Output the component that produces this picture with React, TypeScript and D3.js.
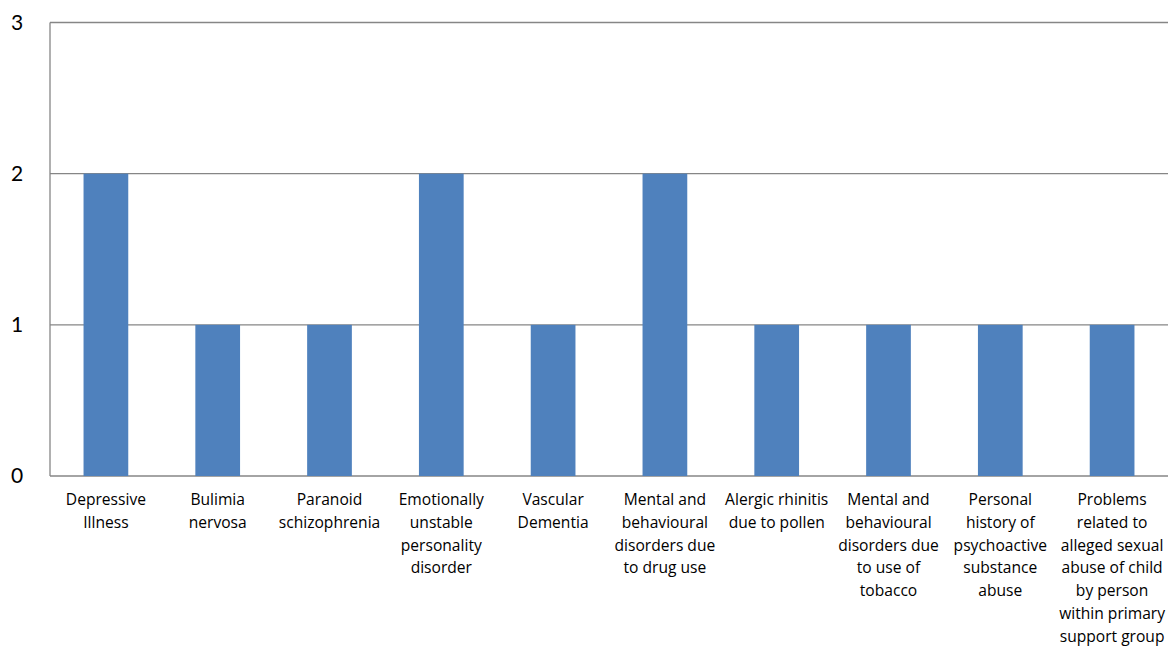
import React from "react";
import * as d3 from "d3";

const categories: string[][] = [
  ["Depressive", "Illness"],
  ["Bulimia", "nervosa"],
  ["Paranoid", "schizophrenia"],
  ["Emotionally", "unstable", "personality", "disorder"],
  ["Vascular", "Dementia"],
  ["Mental and", "behavioural", "disorders due", "to drug use"],
  ["Alergic rhinitis", "due to pollen"],
  ["Mental and", "behavioural", "disorders due", "to use of", "tobacco"],
  ["Personal", "history of", "psychoactive", "substance", "abuse"],
  ["Problems", "related to", "alleged sexual", "abuse of child", "by person", "within primary", "support group"],
];

const values: number[] = [2, 1, 1, 2, 1, 2, 1, 1, 1, 1];

const yTicks: number[] = [0, 1, 2, 3];

const W = 1173;
const H = 648;
const margin = { left: 50, right: 5, top: 22.5, bottom: 172 };

export default function App() {
  const x = d3
    .scaleBand<number>()
    .domain(d3.range(values.length))
    .range([margin.left, W - margin.right])
    .paddingInner(0.6)
    .paddingOuter(0.3);
  const y = d3.scaleLinear().domain([0, 3]).range([H - margin.bottom, margin.top]);
  const tickFont = "Lato, 'Open Sans', sans-serif";
  const labelFont = "'Open Sans', Lato, sans-serif";

  return (
    <div style={{ position: "fixed", left: 0, top: 0 }}>
      <svg width={W} height={H} style={{ display: "block", background: "#fff" }}>
        {yTicks.map((t) => (
          <g key={t}>
            <line
              x1={margin.left}
              x2={W - margin.right}
              y1={y(t)}
              y2={y(t)}
              stroke="#868686"
              strokeWidth={1.3}
            />
            <text
              x={17}
              y={y(t)}
              dy="0.35em"
              textAnchor="middle"
              fontFamily={tickFont}
              fontSize={21}
              fill="#000"
            >
              {t}
            </text>
          </g>
        ))}
        <line
          x1={margin.left}
          x2={margin.left}
          y1={y(3)}
          y2={y(0)}
          stroke="#868686"
          strokeWidth={1.3}
        />
        {values.map((v, i) => (
          <rect
            key={i}
            x={x(i)!}
            y={y(v)}
            width={x.bandwidth()}
            height={y(0) - y(v)}
            fill="#4F81BD"
          />
        ))}
        {categories.map((lines, i) => (
          <text
            key={i}
            x={x(i)! + x.bandwidth() / 2}
            y={505}
            textAnchor="middle"
            fontFamily={labelFont}
            fontSize={15.6}
            fill="#000"
          >
            {lines.map((l, j) => (
              <tspan key={j} x={x(i)! + x.bandwidth() / 2} y={505 + j * 22.8}>
                {l}
              </tspan>
            ))}
          </text>
        ))}
      </svg>
    </div>
  );
}
